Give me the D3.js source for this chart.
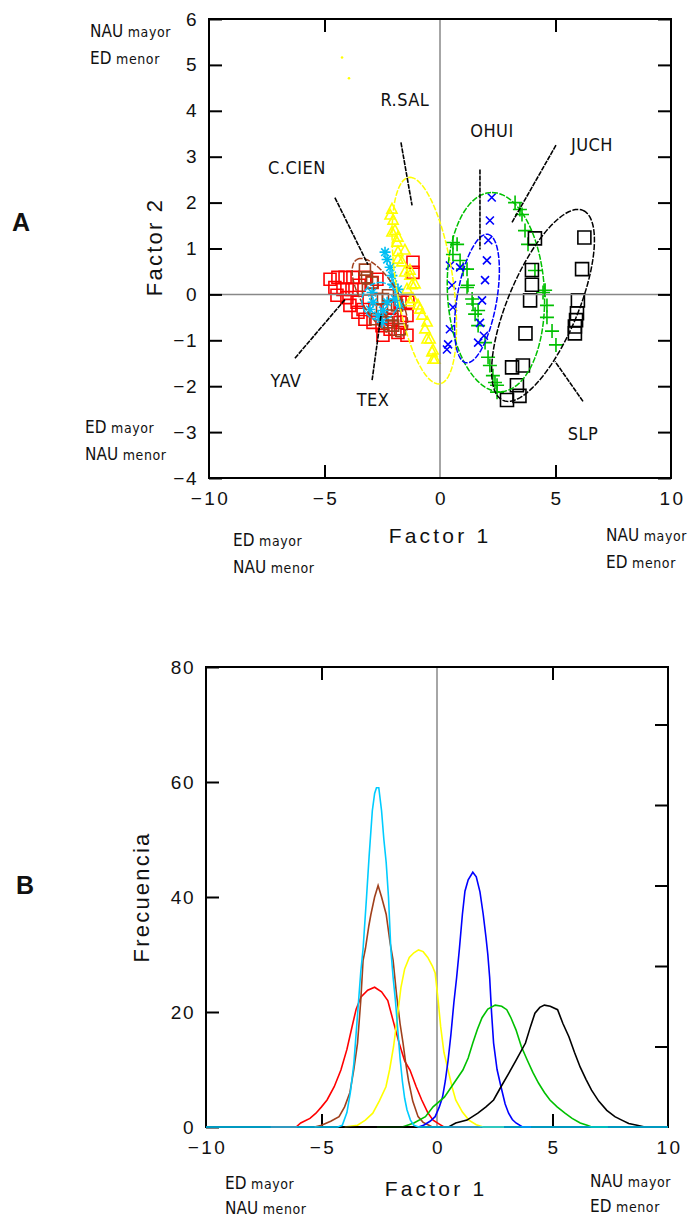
<!DOCTYPE html>
<html>
<head>
<meta charset="utf-8">
<script src="https://cdn.jsdelivr.net/npm/d3@7"></script>
<style>
  body { margin: 0; background: #fff; }
  text { font-family: "Liberation Sans", Arial, sans-serif; fill: #111; }
  .lbl { font-family: "Liberation Sans Narrow", "DejaVu Sans Condensed", sans-serif; }
</style>
</head>
<body>
<svg id="fig" width="691" height="1220"></svg>
<script>
// ---- panel A : factor scores (Factor 1, Factor 2) ----
var yavPts = [[-4.76,0.33],[-4.42,0.37],[-4.11,0.37],[-3.77,0.37],[-4.55,0.15],[-4.2,0.11],[-3.81,0.11],
  [-4.46,-0.02],[-4.03,-0.07],[-3.59,-0.17],[-3.9,-0.24],[-3.55,-0.39],[-3.25,-0.54],[-2.9,-0.61],
  [-2.51,-0.68],[-2.16,-0.76],[-1.82,-0.83],[-2.08,-0.54],[-1.73,-0.61],[-1.43,-0.46],[-1.39,-0.17],
  [-1.17,0.7],[-1.17,0.48],[-1.73,-0.17],[-2.73,0.33],[-2.94,0.26],[-3.25,0.37],[-1.43,-0.89],
  [-2.47,-0.89],[-3.33,-0.33],[-2.81,-0.35],[-3.5,0.2],[-2.2,-0.3]]
var ccienPts = [[-3.25,0.54],[-3.16,0.37],[-2.94,0.26],[-2.47,-0.1],[-2.51,-0.33],[-2.08,-0.46],
  [-2.03,-0.68],[-1.73,-0.76],[-2.29,-0.61],[-2.73,-0.1],[-2.25,-0.02],[-1.86,-0.24],[-3.12,0.11],[-2.81,-0.54]]
var texPts = [[-2.38,0.92],[-2.29,0.76],[-2.16,0.59],[-2.08,0.41],[-2.03,0.22],[-2.9,-0.17],[-3.03,-0.33],
  [-2.68,-0.46],[-2.51,-0.61],[-1.73,-0.24],[-1.95,-0.1],[-1.82,0.11],[-2.94,0.04],[-2.29,-0.17],[-2.47,-0.35]]
var rsalPts = [[-2.08,1.85],[-2.16,1.72],[-2.03,1.61],[-1.95,1.39],[-2.08,1.35],[-1.86,1.13],[-1.82,1.24],
  [-1.82,0.92],[-1.52,0.96],[-1.82,0.76],[-1.65,0.7],[-1.3,0.52],[-1.52,0.48],[-1.3,0.41],[-1.21,0.2],
  [-1.08,0.22],[-1.43,0.11],[-1.17,-0.1],[-1.3,-0.17],[-0.95,-0.24],[-0.87,-0.33],[-0.78,-0.46],
  [-0.56,-0.61],[-0.65,-0.76],[-0.56,-0.98],[-0.43,-0.98],[-0.35,-1.26],[-0.3,-1.22],[-0.3,-1.42],[-0.22,-1.42]]
var rsalOut = [[-4.24,5.16],[-3.94,4.71]]
var ohuiPts = [[2.24,2.11],[2.16,1.61],[2.09,1.18],[2.03,0.74],[1.95,0.31],[1.82,-0.13],[1.73,-0.62],
  [1.65,-1.05],[0.87,0.59],[0.52,0.2],[0.56,-0.28],[0.43,-0.76],[0.35,-1.09],[0.3,-1.2],[0.43,0.63],[1.9,-0.9]]
var juchPts = [[3.25,2.0],[3.46,1.85],[3.55,1.74],[3.68,1.39],[3.81,1.09],[4.11,0.52],[4.46,0.04],[4.55,0.09],
  [4.63,-0.24],[4.63,-0.5],[4.85,-0.8],[5.02,-1.1],[0.56,1.13],[0.74,1.09],[0.56,0.87],[0.87,0.74],[1.0,0.55],
  [1.17,0.55],[1.21,0.2],[1.17,0.15],[1.39,-0.1],[1.43,-0.21],[1.52,-0.43],[1.65,-0.35],[1.65,-0.68],
  [1.95,-1.05],[2.08,-1.37],[2.16,-1.55],[2.29,-1.77],[2.38,-1.92],[2.47,-1.98],[2.47,-2.13]]
var slpPts = [[4.11,1.22],[6.25,1.24],[3.98,0.53],[6.15,0.55],[3.98,0.21],[3.9,-0.13],[5.97,-0.13],
  [5.93,-0.41],[5.89,-0.56],[5.84,-0.7],[5.84,-0.85],[3.7,-0.85],[3.12,-1.59],[3.59,-1.55],[3.33,-1.98],
  [3.44,-2.21],[2.9,-2.3]]

// ellipses: centre and two conjugate semi-axis vectors (data units)
var ellipses = [
  { name: 'C.CIEN', color: '#a0401c', c: [-2.6, -0.07], u: [-1.0, 0.83], v: [0.67, 0.2] },
  { name: 'TEX', color: '#00bff3', c: [-2.6, -0.15], u: [0, 0.41], v: [0.78, 0] },
  { name: 'R.SAL', color: '#ffff00', c: [-0.68, 0.3], u: [-0.62, 2.25], v: [1.25, 0] },
  { name: 'JUCH', color: '#00c000', c: [2.42, 0.05], u: [-0.17, 2.17], v: [2.1, 0] },
  { name: 'OHUI', color: '#0000ff', c: [1.6, -0.09], u: [0.43, 1.4], v: [0.87, 0] },
  { name: 'SLP', color: '#000000', c: [4.46, -0.24], u: [1.73, 2.07], v: [1.4, -0.3] }
]

// group labels and their leader lines (data units)
var groupLabels = [
  { name: 'R.SAL', at: [-1.52, 4.25], from: [-1.69, 3.31], to: [-1.21, 1.94] },
  { name: 'C.CIEN', at: [-6.19, 2.77], from: [-4.55, 2.11], to: [-3.12, 0.65] },
  { name: 'OHUI', at: [2.25, 3.57], from: [1.73, 2.72], to: [1.73, 0.98] },
  { name: 'JUCH', at: [6.58, 3.27], from: [5.02, 3.25], to: [3.12, 1.57] },
  { name: 'YAV', at: [-6.67, -1.87], from: [-6.28, -1.39], to: [-4.11, -0.11] },
  { name: 'TEX', at: [-2.9, -2.29], from: [-2.94, -1.87], to: [-2.55, -0.44] },
  { name: 'SLP', at: [6.19, -3.03], from: [6.19, -2.33], to: [4.98, -1.46] }
]

var xTicks = [-10, -5, 0, 5, 10]
var aYTicks = [-4, -3, -2, -1, 0, 1, 2, 3, 4, 5, 6]

// ---- panel B : frequency curves along Factor 1 ----
var yavCurve = [[-7.2,0],[-6.1,0],[-5.9,0.7],[-5.5,1.5],[-5.24,2.4],[-5.0,3.5],[-4.76,4.7],[-4.45,7],[-4.16,9.9],
  [-3.9,13.5],[-3.68,17.4],[-3.5,20.5],[-3.29,22.6],[-3.0,23.8],[-2.7,24.3],[-2.4,23.5],[-2.13,22],[-1.9,18.5],
  [-1.64,14.6],[-1.4,11.5],[-1.17,9.9],[-0.9,7],[-0.66,4.7],[-0.4,2.5],[-0.17,1.2],[0.1,0.5],[0.3,0],[1.9,0]]
var ccienCurve = [[-5.3,0],[-5.0,0.3],[-4.6,1],[-4.24,1.8],[-4.0,3.5],[-3.77,6],[-3.6,10],[-3.44,14.6],[-3.3,22],
  [-3.2,29],[-3.1,31],[-2.95,35],[-2.86,37],[-2.7,40],[-2.55,42],[-2.4,40],[-2.2,37],[-2.03,32],[-1.9,29],
  [-1.75,23],[-1.6,18],[-1.47,14.6],[-1.35,11],[-1.23,8],[-1.05,4.5],[-0.82,1.8],[-0.6,0.8],[-0.35,0.3],[-0.2,0]]
var rsalCurve = [[-4.0,0],[-3.44,0.3],[-3.1,1.2],[-2.78,2.4],[-2.5,4.5],[-2.21,7],[-2.05,10],[-1.88,14],[-1.72,19],
  [-1.56,24.3],[-1.4,27.5],[-1.2,29.5],[-1.0,30.3],[-0.8,30.8],[-0.6,30.5],[-0.4,29.5],[-0.2,28],[-0.08,26.8],
  [0.05,22],[0.16,17.4],[0.3,13],[0.48,9.9],[0.65,7],[0.81,4.7],[1.1,2.6],[1.38,1.2],[1.7,0.4],[2.0,0],[2.9,0]]
var ohuiCurve = [[-0.8,0],[-0.58,0.3],[-0.3,1],[-0.08,1.8],[0.1,3.5],[0.24,5.2],[0.36,8],[0.48,11.6],[0.6,16],
  [0.73,21.6],[0.85,26],[0.97,31],[1.1,37],[1.21,41],[1.35,43],[1.55,44.3],[1.7,43.5],[1.86,40.9],[2.0,37],
  [2.12,33],[2.2,30],[2.28,26],[2.36,20],[2.45,14.6],[2.6,10],[2.77,7],[2.95,4],[3.1,2.4],[3.26,1.3],[3.42,0.7],
  [3.7,0],[4.07,0]]
var juchCurve = [[-2.6,0],[-1.5,0],[-1.0,0.7],[-0.5,1.8],[-0.17,3.5],[0.32,5.2],[0.73,7.6],[1.12,9.9],[1.35,12],
  [1.55,14.6],[1.75,17],[1.95,19],[2.2,20.5],[2.52,21.2],[2.8,21],[3.02,20.4],[3.2,19],[3.42,16.9],[3.65,14],
  [3.91,11.6],[4.15,9.5],[4.4,7.6],[4.65,6],[4.89,4.7],[5.2,3.5],[5.54,2.4],[5.85,1.5],[6.2,0.7],[6.5,0.3],
  [6.7,0],[7.4,0]]
var slpCurve = [[-4.5,0],[0.5,0],[0.81,0.7],[1.3,1.2],[1.77,2.4],[2.12,3.5],[2.45,4.7],[2.77,7],[3.1,9.3],
  [3.42,11.6],[3.83,14.6],[4.05,17.5],[4.24,19.8],[4.45,20.8],[4.65,21.2],[4.9,21],[5.22,20.4],[5.45,18],
  [5.71,15.7],[5.95,13],[6.2,10.4],[6.45,8.3],[6.69,6.4],[7.0,4.5],[7.35,2.9],[7.7,1.8],[8.0,1.2],[8.3,0.6],
  [8.66,0.3],[9.0,0],[9.7,0]]
var texCurve = [[-10,0],[-4.3,0],[-4.1,0.3],[-3.9,2.5],[-3.75,6],[-3.6,11],[-3.45,19],[-3.3,27],[-3.2,31],
  [-3.05,40],[-2.94,47],[-2.8,55],[-2.7,58],[-2.62,59],[-2.52,59],[-2.4,55],[-2.3,50],[-2.2,46],[-2.1,40],
  [-2.0,31],[-1.9,26],[-1.8,22],[-1.7,17],[-1.6,12],[-1.5,8],[-1.4,5],[-1.3,3],[-1.15,1.2],[-1.0,0.3],
  [-0.8,0],[10,0]]

var bYTicks = [0, 20, 40, 60, 80]
var bRightTicks = [14, 28, 42, 56, 70]

var svg = d3.select('#fig')
svg.append('rect').attr('width', 691).attr('height', 1220).attr('fill', '#fff')

function symbolPath (type, s) {
  if (type === 'square') return 'M' + (-s) + ',' + (-s) + 'h' + (2 * s) + 'v' + (2 * s) + 'h' + (-2 * s) + 'Z'
  if (type === 'x') return 'M' + (-s) + ',' + (-s) + 'L' + s + ',' + s + 'M' + (-s) + ',' + s + 'L' + s + ',' + (-s)
  if (type === 'plus') return 'M' + (-s) + ',0H' + s + 'M0,' + (-s) + 'V' + s
  if (type === 'triangle') return 'M0,' + (-s) + 'L' + (s * 0.85) + ',' + (s * 0.6) + 'L' + (-s * 0.85) + ',' + (s * 0.6) + 'Z'
  if (type === 'asterisk') {
    var d = s * 0.7
    return 'M' + (-s) + ',0H' + s + 'M0,' + (-s) + 'V' + s +
      'M' + (-d) + ',' + (-d) + 'L' + d + ',' + d + 'M' + (-d) + ',' + d + 'L' + d + ',' + (-d)
  }
  return ''
}

function cornerNote (g, x, y, anchor, lines, gap) {
  var t = g.append('text').attr('class', 'lbl').attr('text-anchor', anchor)
    .attr('transform', 'translate(' + x + ',' + y + ')')
  lines.forEach(function (l, i) {
    var row = t.append('tspan').attr('x', 0).attr('y', i * (gap || 27))
    row.append('tspan').attr('font-size', 17).text(l[0])
    row.append('tspan').attr('font-size', 14).attr('letter-spacing', 0.6).text(' ' + l[1])
  })
}

function frameAxes (g, x, y, leftTicks, rightTicks, tickFmt) {
  var x0 = x.range()[0], x1 = x.range()[1]
  var y0 = y.range()[0], y1 = y.range()[1]

  // tick labels
  g.append('g').attr('transform', 'translate(0,' + y0 + ')')
    .call(d3.axisBottom(x).tickValues(xTicks).tickSize(0).tickPadding(14))
    .call(function (a) { a.select('.domain').remove() })
    .selectAll('text').attr('font-size', 19).attr('letter-spacing', 2.5).attr('dx', 1)
  g.append('g').attr('transform', 'translate(' + x0 + ',0)')
    .call(d3.axisLeft(y).tickValues(leftTicks).tickSize(0).tickPadding(11).tickFormat(tickFmt))
    .call(function (a) { a.select('.domain').remove() })
    .selectAll('text').attr('font-size', 19).attr('letter-spacing', 1.5)

  // inward ticks on all four sides
  var tickAxes = [
    { ax: d3.axisBottom(x).tickValues([-5, 5]), tr: 'translate(0,' + y0 + ')' },
    { ax: d3.axisTop(x).tickValues([-5, 5]), tr: 'translate(0,' + y1 + ')' },
    { ax: d3.axisLeft(y).tickValues(leftTicks), tr: 'translate(' + x0 + ',0)' },
    { ax: d3.axisRight(y).tickValues(rightTicks), tr: 'translate(' + x1 + ',0)' }
  ]
  tickAxes.forEach(function (t) {
    g.append('g').attr('transform', t.tr)
      .call(t.ax.tickSizeInner(-13).tickSizeOuter(0).tickFormat(''))
      .call(function (a) { a.select('.domain').remove() })
      .selectAll('line').attr('stroke', '#000').attr('stroke-width', 2)
  })

  g.append('rect')
    .attr('x', x0).attr('y', y1).attr('width', x1 - x0).attr('height', y0 - y1)
    .attr('fill', 'none').attr('stroke', '#000').attr('stroke-width', 2)
}

// ================= PANEL A =================
var xA = d3.scaleLinear().domain([-10, 10]).range([209, 671])
var yA = d3.scaleLinear().domain([-4, 6]).range([478, 19])
var gA = svg.append('g').attr('class', 'panelA')

var groupsA = [
  { pts: yavPts, color: '#ff0000', sym: 'square', s: 6 },
  { pts: ccienPts, color: '#a0401c', sym: 'square', s: 5.5 },
  { pts: rsalPts, color: '#ffff00', sym: 'triangle', s: 6 },
  { pts: texPts, color: '#00bff3', sym: 'asterisk', s: 5.5 },
  { pts: juchPts, color: '#00c000', sym: 'plus', s: 7 },
  { pts: ohuiPts, color: '#0000ff', sym: 'x', s: 4 },
  { pts: slpPts, color: '#000000', sym: 'square', s: 6.5 }
]
groupsA.forEach(function (grp) {
  gA.append('g').selectAll('path')
    .data(grp.pts).enter().append('path')
    .attr('transform', function (d) { return 'translate(' + xA(d[0]) + ',' + yA(d[1]) + ')' })
    .attr('d', symbolPath(grp.sym, grp.s))
    .attr('fill', 'none').attr('stroke', grp.color).attr('stroke-width', 1.6)
})
gA.selectAll('circle.out')
  .data(rsalOut).enter().append('circle').attr('class', 'out')
  .attr('cx', function (d) { return xA(d[0]) })
  .attr('cy', function (d) { return yA(d[1]) })
  .attr('r', 1.3).attr('fill', '#ffff00')

// zero lines (drawn over the points, as in the original)
gA.append('line').attr('x1', xA(0)).attr('x2', xA(0)).attr('y1', yA(6)).attr('y2', yA(-4))
  .attr('stroke', '#888').attr('stroke-width', 1.5)
gA.append('line').attr('x1', xA(-10)).attr('x2', xA(10)).attr('y1', yA(0)).attr('y2', yA(0))
  .attr('stroke', '#888').attr('stroke-width', 1.5)

var angles = d3.range(0, 2 * Math.PI + 0.01, Math.PI / 60)
ellipses.forEach(function (e) {
  var line = d3.line()
    .x(function (t) { return xA(e.c[0] + e.u[0] * Math.cos(t) + e.v[0] * Math.sin(t)) })
    .y(function (t) { return yA(e.c[1] + e.u[1] * Math.cos(t) + e.v[1] * Math.sin(t)) })
  gA.append('path').datum(angles)
    .attr('d', line)
    .attr('fill', 'none').attr('stroke', e.color).attr('stroke-width', 1.5)
    .attr('stroke-dasharray', '6,1.5')
})

groupLabels.forEach(function (l) {
  gA.append('line')
    .attr('x1', xA(l.from[0])).attr('y1', yA(l.from[1]))
    .attr('x2', xA(l.to[0])).attr('y2', yA(l.to[1]))
    .attr('stroke', '#000').attr('stroke-width', 1.6).attr('stroke-dasharray', '5,1')
  gA.append('text').attr('class', 'lbl')
    .attr('x', xA(l.at[0])).attr('y', yA(l.at[1]))
    .attr('text-anchor', 'middle').attr('dy', '0.36em')
    .attr('font-size', 18).attr('letter-spacing', 0.5)
    .text(l.name)
})

frameAxes(gA, xA, yA, aYTicks, aYTicks, d3.format('d'))

gA.append('text').attr('x', 440).attr('y', 543).attr('text-anchor', 'middle')
  .attr('font-size', 21).attr('letter-spacing', 3.2).text('Factor 1')
gA.append('text').attr('transform', 'translate(162,247) rotate(-90)').attr('text-anchor', 'middle')
  .attr('font-size', 22).attr('letter-spacing', 2.2).text('Factor 2')

cornerNote(gA, 90, 37, 'start', [['NAU', 'mayor'], ['ED', 'menor']])
cornerNote(gA, 85, 433, 'start', [['ED', 'mayor'], ['NAU', 'menor']])
cornerNote(gA, 233, 546, 'start', [['ED', 'mayor'], ['NAU', 'menor']])
cornerNote(gA, 606, 541, 'start', [['NAU', 'mayor'], ['ED', 'menor']])

svg.append('text').attr('x', 12).attr('y', 231).attr('font-size', 25).attr('font-weight', 'bold').text('A')

// ================= PANEL B =================
var xB = d3.scaleLinear().domain([-10, 10]).range([206, 668])
var yB = d3.scaleLinear().domain([0, 80]).range([1127, 667])
var gB = svg.append('g').attr('class', 'panelB')

gB.append('line').attr('x1', xB(0)).attr('x2', xB(0)).attr('y1', yB(80)).attr('y2', yB(0))
  .attr('stroke', '#888').attr('stroke-width', 1.5)

frameAxes(gB, xB, yB, bYTicks, bRightTicks, d3.format('d'))

// curves on top of the frame: their zero runs colour the bottom axis
var curves = [
  { pts: yavCurve, color: '#ff0000' },
  { pts: ccienCurve, color: '#a0401c' },
  { pts: rsalCurve, color: '#ffff00' },
  { pts: ohuiCurve, color: '#0000ff' },
  { pts: juchCurve, color: '#00c000' },
  { pts: slpCurve, color: '#000000' },
  { pts: texCurve, color: '#00ccff' }
]
var curveLine = d3.line()
  .x(function (d) { return xB(d[0]) })
  .y(function (d) { return yB(d[1]) })
curves.forEach(function (c) {
  gB.append('path').datum(c.pts)
    .attr('d', curveLine)
    .attr('fill', 'none').attr('stroke', c.color).attr('stroke-width', 1.6)
})

gB.append('text').attr('x', 436).attr('y', 1196).attr('text-anchor', 'middle')
  .attr('font-size', 21).attr('letter-spacing', 3.2).text('Factor 1')
gB.append('text').attr('transform', 'translate(149,897) rotate(-90)').attr('text-anchor', 'middle')
  .attr('font-size', 22).attr('letter-spacing', 2.2).text('Frecuencia')

cornerNote(gB, 225, 1189, 'start', [['ED', 'mayor'], ['NAU', 'menor']], 25)
cornerNote(gB, 590, 1187, 'start', [['NAU', 'mayor'], ['ED', 'menor']], 25)

svg.append('text').attr('x', 16).attr('y', 894).attr('font-size', 25).attr('font-weight', 'bold').text('B')
</script>
</body>
</html>
